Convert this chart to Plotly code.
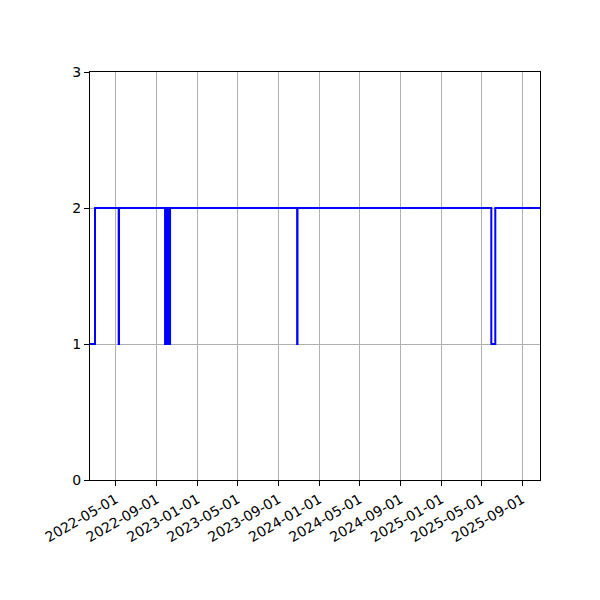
import plotly.graph_objects as go

# change points of the step series (value holds until the next date)
dates = [
    "2022-02-13", "2022-02-28",
    "2022-05-10", "2022-05-11",
    "2022-09-26", "2022-09-27", "2022-09-28", "2022-09-30", "2022-10-01",
    "2022-10-03", "2022-10-04", "2022-10-06", "2022-10-07", "2022-10-09",
    "2022-10-10", "2022-10-11",
    "2023-10-27", "2023-10-28",
    "2025-05-31", "2025-06-12",
    "2025-10-24",
]
values = [
    1, 2,
    1, 2,
    1, 2, 1, 2, 1,
    2, 1, 2, 1, 2,
    1, 2,
    1, 2,
    1, 2,
    2,
]

tick_dates = [
    "2022-05-01", "2022-09-01", "2023-01-01", "2023-05-01", "2023-09-01",
    "2024-01-01", "2024-05-01", "2024-09-01", "2025-01-01", "2025-05-01",
    "2025-09-01",
]
y_ticks = [0, 1, 2, 3]

fig = go.Figure()
fig.add_trace(go.Scatter(
    x=dates, y=values, mode="lines",
    line=dict(color="#0000ff", width=2, shape="hv"),
    showlegend=False,
))

axis_style = dict(
    showline=True, mirror=True, linecolor="black", linewidth=1,
    ticks="outside", ticklen=5, tickcolor="black", tickwidth=1,
    showgrid=True, gridcolor="#b0b0b0", gridwidth=1, zeroline=False,
    automargin=False,
)

# page body adds an 8px offset, so margins are shifted to compensate
fig.update_layout(
    width=600, height=600,
    margin=dict(l=82, r=68, t=64, b=128),
    plot_bgcolor="white", paper_bgcolor="white",
    font=dict(family="DejaVu Sans", size=14, color="black"),
    xaxis=dict(
        range=[dates[0], dates[-1]],
        tickvals=tick_dates, ticktext=tick_dates, tickangle=-30,
        **axis_style,
    ),
    yaxis=dict(range=[0, 3], tickvals=y_ticks, **axis_style),
)

fig.write_html("out.html")
